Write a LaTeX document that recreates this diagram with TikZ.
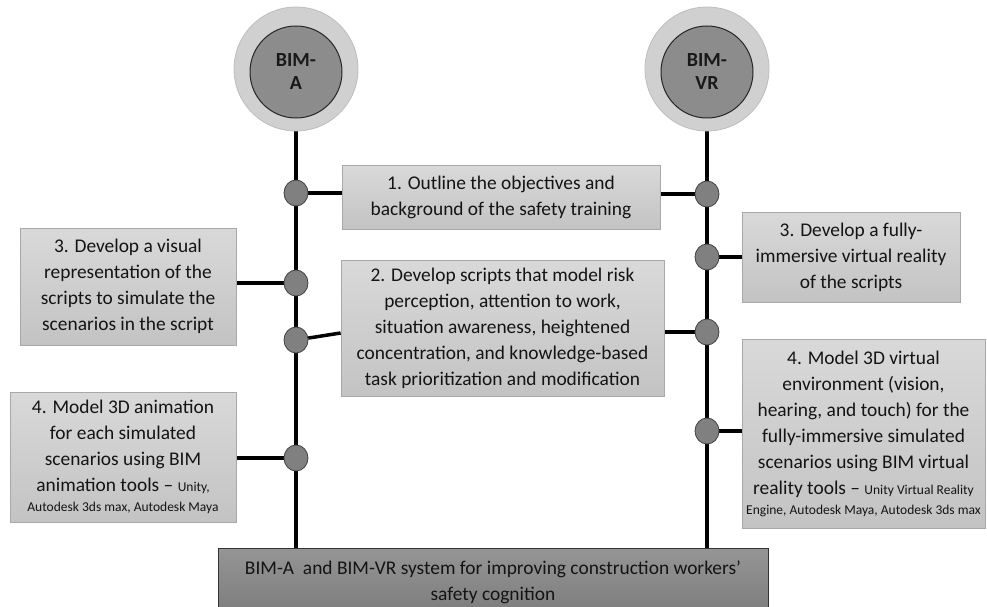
\documentclass[tikz,border=0pt]{standalone}
\usepackage{fontspec}
\setmainfont{Carlito}
\usetikzlibrary{shapes.geometric,backgrounds}
\definecolor{boxtop}{HTML}{D9D9D9}
\definecolor{boxbot}{HTML}{C3C3C3}
\definecolor{boxline}{HTML}{A8A8A8}
\definecolor{darktop}{HTML}{959595}
\definecolor{darkbot}{HTML}{7C7C7C}
\definecolor{outerfill}{HTML}{D0D0D0}
\definecolor{outerline}{HTML}{BDBDBD}
\definecolor{innerfill}{HTML}{8C8C8C}
\definecolor{jointfill}{HTML}{808080}
\newcommand{\bigfs}{\fontsize{19.4}{26}\selectfont}
\newcommand{\smallfs}{\fontsize{13.5}{20}\selectfont}
\begin{document}
\begin{tikzpicture}[x=1pt,y=-1pt,
  stepbox/.style={draw=boxline, line width=0.8pt, top color=boxtop, bottom color=boxbot, inner sep=0pt, align=center, font=\bigfs, text=black!92},
  basebox/.style={draw=black!80, line width=1pt, top color=darktop, bottom color=darkbot, inner sep=0pt, align=center, font=\bigfs, text=black!92},
  outerc/.style={circle, draw=outerline, fill=outerfill, line width=0.8pt, minimum size=124pt, inner sep=0pt},
  innerc/.style={circle, draw=black!85, fill=innerfill, line width=1pt, minimum size=92pt, inner sep=0pt, align=center, font=\fontsize{20}{23}\selectfont\bfseries, text=black!90},
  joint/.style={ellipse, draw=black!75, fill=jointfill, line width=0.8pt, minimum width=24pt, minimum height=26pt, inner sep=0pt},
  spine/.style={line width=4pt, black},
  link/.style={line width=3.5pt, black}]
\useasboundingbox (0,0) rectangle (987,607);
\clip (0,0) rectangle (987,607);

% circles
\node[outerc] (oA) at (296,69) {};
\node[innerc] (iA) at (296,72) {BIM-\\A};
\node[outerc] (oB) at (707,69) {};
\node[innerc] (iB) at (707,72) {BIM-\\VR};

% boxes
\node[stepbox, minimum width=318pt, minimum height=64pt] (b1) at (501,197)
  {1. Outline the objectives and\\background of the safety training};
\node[stepbox, minimum width=323pt, minimum height=136pt] (b2) at (502.5,328)
  {2. Develop scripts that model risk\\perception, attention to work,\\situation awareness, heightened\\concentration, and knowledge-based\\task prioritization and modification};
\node[stepbox, minimum width=216pt, minimum height=117pt] (b3l) at (128,286.5)
  {3. Develop a visual\\representation of the\\scripts to simulate the\\scenarios in the script};
\node[stepbox, minimum width=226pt, minimum height=130pt] (b4l) at (123,457)
  {4. Model 3D animation\\for each simulated\\scenarios using BIM\\animation tools \textendash\ {\smallfs Unity,}\\[-6pt]{\smallfs Autodesk 3ds max, Autodesk Maya}};
\node[stepbox, minimum width=218pt, minimum height=90pt] (b3r) at (851,257)
  {3. Develop a fully-\\immersive virtual reality\\of the scripts};
\node[stepbox, minimum width=243pt, minimum height=189pt] (b4r) at (863.5,433.5)
  {4. Model 3D virtual\\environment (vision,\\hearing, and touch) for the\\fully-immersive simulated\\scenarios using BIM virtual\\reality tools \textendash\ {\smallfs Unity Virtual Reality}\\[-6pt]{\smallfs Engine, Autodesk Maya, Autodesk 3ds max}};
\node[basebox, minimum width=550pt, minimum height=68pt] (bot) at (493,582)
  {BIM-A\ \ and BIM-VR system for improving construction workers'\\safety cognition};

% joints
\node[joint] (a1) at (296,193) {};
\node[joint] (a2) at (296,283) {};
\node[joint] (a3) at (296,340) {};
\node[joint] (a4) at (296,458) {};
\node[joint] (d1) at (707,194) {};
\node[joint] (d2) at (707,257) {};
\node[joint] (d3) at (707,332) {};
\node[joint] (d4) at (707,431) {};

\begin{scope}[on background layer]
\draw[spine] (oA.south) -- (a1) -- (a2) -- (a3) -- (a4) -- (a4 |- bot.north);
\draw[spine] (oB.south) -- (d1) -- (d2) -- (d3) -- (d4) -- (d4 |- bot.north);
\draw[link] (a1) -- (a1 -| b1.west);
\draw[link] (d1) -- (d1 -| b1.east);
\draw[link] (a2) -- (a2 -| b3l.east);
\draw[link] (a3) -- ([yshift=-5pt]b2.west);
\draw[link] (d3) -- (d3 -| b2.east);
\draw[link] (a4) -- (a4 -| b4l.east);
\draw[link] (d2) -- (d2 -| b3r.west);
\draw[link] (d4) -- (d4 -| b4r.west);
\end{scope}
\end{tikzpicture}
\end{document}
